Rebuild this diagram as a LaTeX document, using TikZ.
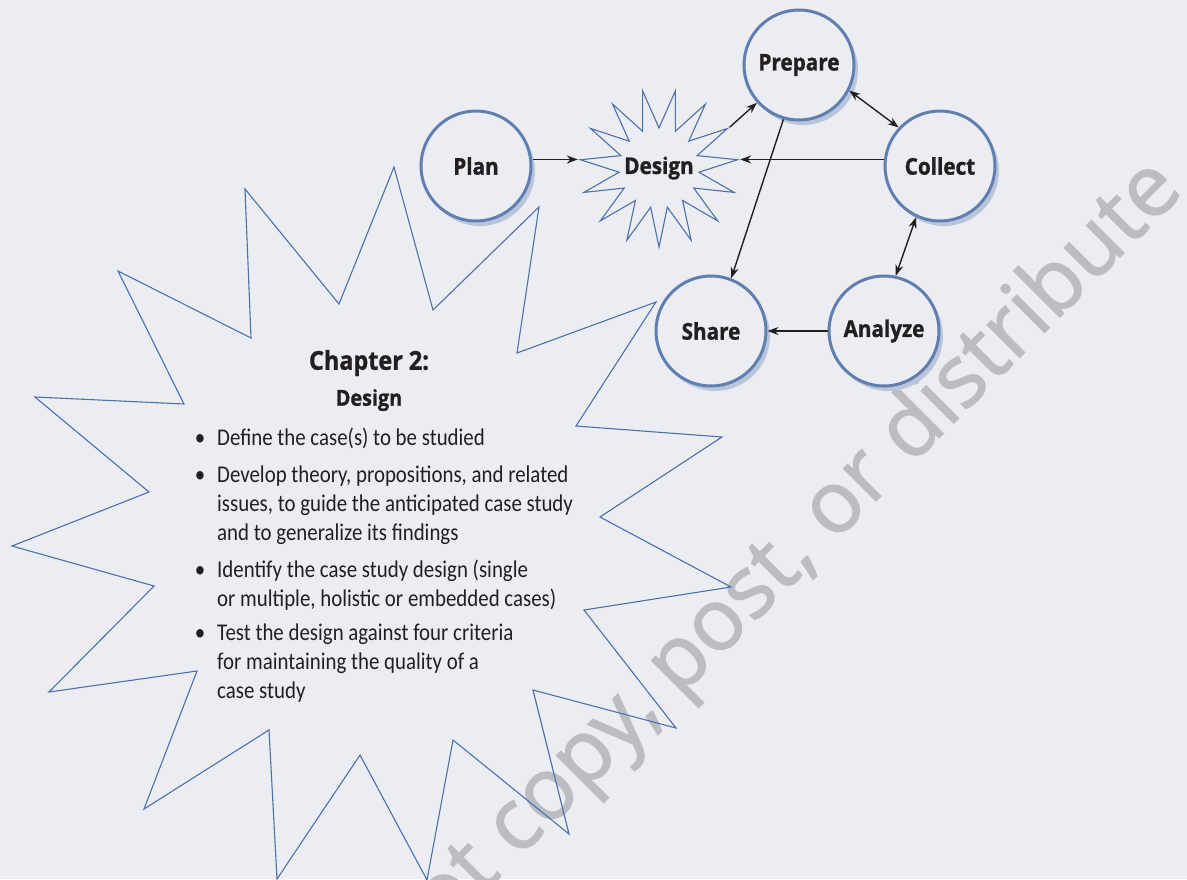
\documentclass[tikz,border=0pt]{standalone}
\usepackage{fontspec}
\setmainfont{Carlito}
\newfontfamily\bodyfont[FakeStretch=0.87]{Carlito}
\newfontfamily\labelfont[FakeStretch=0.9, BoldFeatures={FakeBold=1.2}]{Open Sans}
\newfontfamily\markfont[FakeBold=1.5]{Open Sans}
\usepackage{tikz}
\usetikzlibrary{positioning, arrows.meta, shapes.geometric, shadows}
\definecolor{PageColour}{RGB}{236,237,242}
\definecolor{RingColour}{RGB}{96,126,176}
\definecolor{ShadeColour}{RGB}{186,197,220}
\definecolor{BurstColour}{RGB}{78,112,170}
\definecolor{InkColour}{RGB}{35,31,32}
\definecolor{MarkColour}{RGB}{188,189,194}

\begin{document}
\begin{tikzpicture}[
  x=1pt, y=-1pt,
  labeltext/.style={text=InkColour, inner sep=0pt, font=\labelfont\bfseries\fontsize{23}{27}\selectfont},
  stagenode/.style={circle, draw=RingColour, line width=3pt, fill=PageColour, minimum size=110pt, inner sep=0pt, labeltext, drop shadow={shadow xshift=4pt, shadow yshift=-5pt, fill=ShadeColour, opacity=1}},
  burstnode/.style={star, star points=15, star point ratio=1.97, shape border rotate=180, minimum size=158pt, inner sep=0pt, draw=BurstColour, line width=1.1pt},
  burstline/.style={draw=BurstColour, line width=1.1pt},
  headnode/.style={text=InkColour, inner sep=0pt, font=\labelfont\bfseries\fontsize{26}{30}\selectfont},
  itemnode/.style={anchor=north west, align=left, inner sep=0pt, text=InkColour, font=\bodyfont\fontsize{24}{29}\selectfont},
  marknode/.style={text=MarkColour, inner sep=0pt, font=\markfont\fontsize{86}{100}\selectfont},
  flowarrow/.style={-{Stealth[length=11pt, width=8pt]}, line width=1.4pt, draw=InkColour},
  flowboth/.style={{Stealth[length=11pt, width=8pt]}-{Stealth[length=11pt, width=8pt]}, line width=1.4pt, draw=InkColour}
]
\useasboundingbox (0,0) rectangle (1187,879);
\fill[PageColour] (0,0) rectangle (1187,879);

\node[marknode, rotate=45, anchor=base east] (stamp) at (1185,192) {Do not copy, post, or distribute};

\draw[burstline] (394,167) -- (433,310) -- (539,207) -- (517,353) -- (656,302) -- (576,426)
  -- (722,437) -- (600,517) -- (731,587) -- (584,610) -- (676,728) -- (533,690)
  -- (569,834) -- (453,740) -- (427,880) -- (360,755) -- (277,879) -- (269,730)
  -- (144,809) -- (197,671) -- (49,692) -- (154,586) -- (12,546) -- (149,492)
  -- (35,397) -- (184,404) -- (118,271) -- (251,338) -- (245,189) -- (339,304) -- cycle;

\node[burstnode, label={[labeltext]center:Design}] (design) at (659,168) {};
\node[stagenode] (plan) at (476,166) {Plan};
\node[stagenode] (prepare) at (799,65) {Prepare};
\node[stagenode] (collect) at (940,166) {Collect};
\node[stagenode] (share) at (711,331) {Share};
\node[stagenode] (analyze) at (884,331) {Analyze};

\draw[flowarrow] (plan.east |- design.174) -- (design.174);
\draw[flowarrow] (collect.west |- design.6) -- (design.6);
\draw[flowarrow] (design.30) -- (prepare);
\draw[flowboth] (prepare.-27) -- (collect.137);
\draw[flowboth] (collect.-115) -- (analyze.78);
\draw[flowarrow] (analyze) -- (share);
\draw[flowarrow] (prepare.-106) -- (share.69);

\node[headnode] (chapter) at (369,363) {Chapter 2:};
\node[headnode, font=\labelfont\bfseries\fontsize{22}{26}\selectfont] (chaptitle) at (369,400) {Design};
\node[itemnode] (define) at (217,424.7) {\strut\llap{\textbullet\hspace{12pt}}Define the case(s) to be studied};
\node[itemnode] (develop) at (217,461.7) {\strut\llap{\textbullet\hspace{12pt}}Develop theory, propositions, and related\\issues, to guide the anticipated case study\\and to generalize its findings};
\node[itemnode] (identify) at (217,556.7) {\strut\llap{\textbullet\hspace{12pt}}Identify the case study design (single\\or multiple, holistic or embedded cases)};
\node[itemnode] (test) at (217,619.7) {\strut\llap{\textbullet\hspace{12pt}}Test the design against four criteria\\for maintaining the quality of a\\case study};
\end{tikzpicture}
\end{document}
